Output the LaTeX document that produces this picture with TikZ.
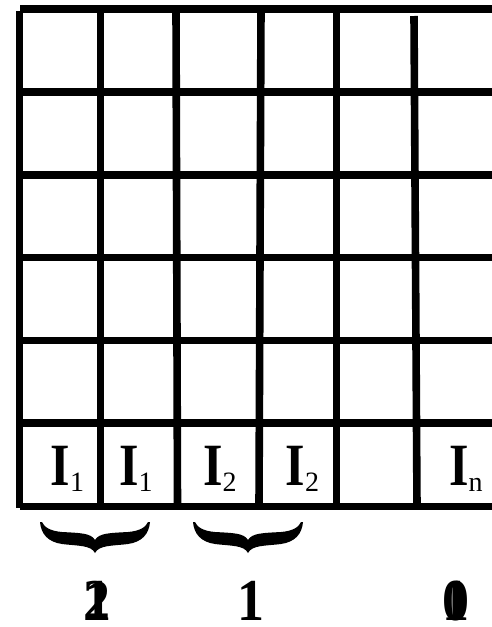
\documentclass[tikz,border=0pt]{standalone}
\usepackage{fontspec}
\setmainfont{Liberation Serif}
\usetikzlibrary{positioning}

\newcommand{\cellI}[1]{\scalebox{1}[1.2]{\fontsize{50}{50}\selectfont\bfseries I}\raisebox{-6.5pt}{\fontsize{28}{28}\selectfont #1}}
\newcommand{\tallnum}[1]{\scalebox{1}[1.1]{#1}}

\tikzset{
  bracedown/.pic={
    \fill (0,0) .. controls (1,12) and (8,20) .. (22,22)
      .. controls (38,24) and (51,23) .. (55,31)
      .. controls (59,23) and (72,24) .. (88,22)
      .. controls (102,20) and (109,12) .. (110,0) -- (108,0)
      .. controls (106,5) and (100,9) .. (88,10)
      .. controls (70,11) and (59,11) .. (55,18)
      .. controls (51,11) and (40,11) .. (22,10)
      .. controls (10,9) and (4,5) .. (2,0) -- cycle;
  }
}

\begin{document}
\begin{tikzpicture}[x=1pt, y=-1pt, gridline/.style={line width=7.6pt},
    cell/.style={anchor=base, inner sep=0pt},
    num/.style={anchor=base, inner sep=0pt, font=\fontsize{54}{54}\selectfont\bfseries}]
  \useasboundingbox (0,0) rectangle (491,627);
  % grid
  \draw[gridline] (20,9) -- (495,9);
  \foreach \y in {91.8,174.7,257.5,340.3,423.2}
    \draw[gridline] (19.5,\y) -- (495,\y);
  \draw[gridline] (20,506.5) -- (495,506.5);
  \draw[gridline] (19.5,11) -- (19.5,508);
  \draw[gridline] (100.3,9) -- (100.3,506);
  \draw[gridline] (176,9) -- (177.5,506);
  \draw[gridline] (261,9) -- (259,506);
  \draw[gridline] (336.5,9) -- (336.5,506);
  \draw[gridline] (414,16) -- (417,506);
  % bottom row
  \node[cell] (l1) at (67.5,485) {\cellI{1}};
  \node[cell] (l2) at (136,485) {\cellI{1}};
  \node[cell] (l3) at (220,485) {\cellI{2}};
  \node[cell] (l4) at (302.5,485) {\cellI{2}};
  \node[cell] (ln) at (466,485) {\cellI{n}};
  % braces
  \pic (brA) at (40,522) {bracedown};
  \pic (brB) at (193,522) {bracedown};
  % counts
  \node[num] (k2) at (97,620) {\tallnum{2}};
  \node[num] (k2b) at (98,620) {\tallnum{1}};
  \node[num] (k1) at (251,620) {\tallnum{1}};
  \node[num] (k0) at (455.5,620) {\tallnum{0}};
  \node[num] (k0b) at (455.5,620) {\tallnum{1}};
\end{tikzpicture}
\end{document}
